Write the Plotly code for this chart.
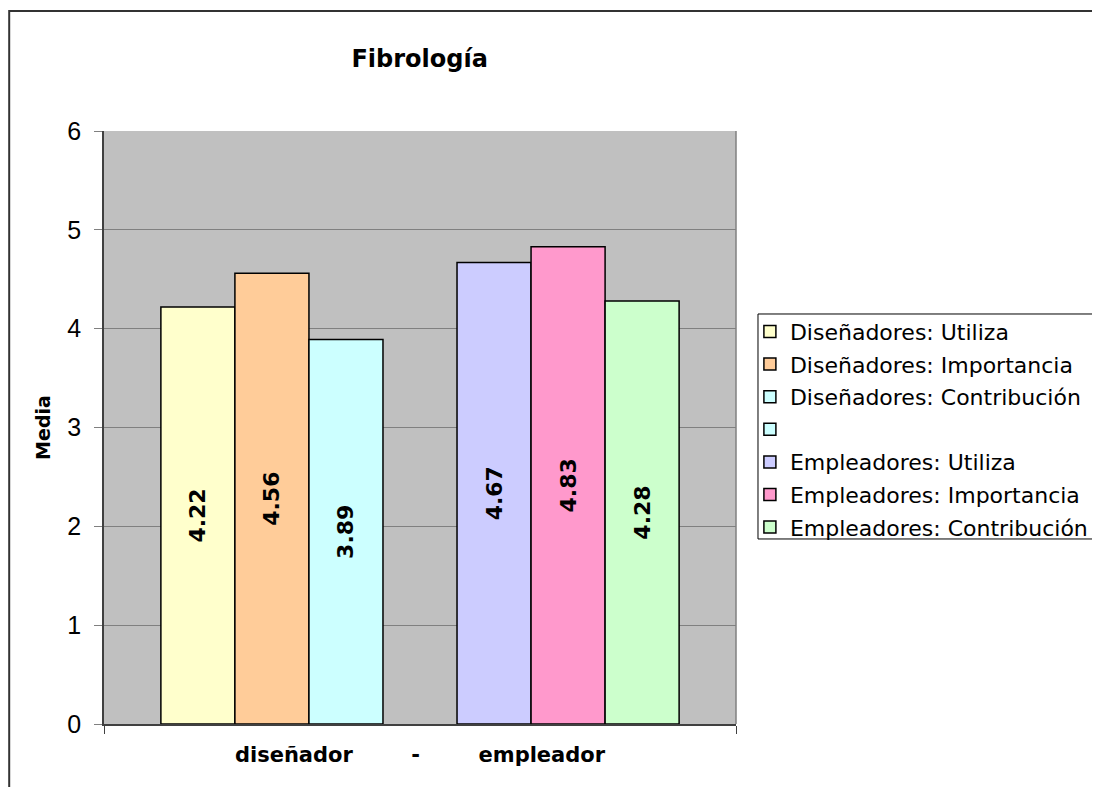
import plotly.graph_objects as go

categories = ["diseñador\u00a0\u00a0\u00a0\u00a0\u00a0\u00a0\u00a0\u00a0-\u00a0\u00a0\u00a0\u00a0\u00a0\u00a0\u00a0\u00a0empleador"]
series_names = [
    "Diseñadores: Utiliza",
    "Diseñadores: Importancia",
    "Diseñadores: Contribución",
    " ",
    "Empleadores: Utiliza",
    "Empleadores: Importancia",
    "Empleadores: Contribución",
]
series_values = [4.22, 4.56, 3.89, None, 4.67, 4.83, 4.28]
series_colors = ["#FFFFCC", "#FFCC99", "#CCFFFF", "#CCFFFF", "#CCCCFF", "#FF99CC", "#CCFFCC"]
y_ticks = [0, 1, 2, 3, 4, 5, 6]

fig = go.Figure()
for i, (name, val, col) in enumerate(zip(series_names, series_values, series_colors)):
    fig.add_trace(go.Bar(
        x=categories, y=[val], name=name, legendgroup=f"g{i}",
        marker=dict(color=col, line=dict(color="#000000", width=1.5)),
        texttemplate="%{y:.2f}", textposition="inside", textangle=-90,
        insidetextanchor="middle",
        textfont=dict(family="DejaVu Sans", size=22, color="#000000", weight="bold"),
    ))

fig.update_layout(
    width=1092, height=779,
    margin=dict(l=96, r=364, t=123, b=63, autoexpand=False),
    paper_bgcolor="#FFFFFF", plot_bgcolor="#C0C0C0",
    barmode="group", bargap=0.18, bargroupgap=0,
    showlegend=True,
    title=dict(text="<b>Fibrología</b>", x=0.377, xanchor="center", y=0.935, yanchor="middle",
               font=dict(family="DejaVu Sans", size=24, color="#000000")),
    legend=dict(x=1.022, xanchor="left", y=0.697, yanchor="top",
                borderwidth=0, bgcolor="rgba(255,255,255,0)",
                font=dict(family="DejaVu Sans", size=22, color="#000000"),
                traceorder="grouped", tracegroupgap=1),
    xaxis=dict(showgrid=False, showline=True, linecolor="#404040", linewidth=1.5,
               ticks="outside", tickson="boundaries", ticklen=8, tickcolor="#404040",
               ticklabelstandoff=11,
               tickfont=dict(family="DejaVu Sans", size=21, color="#000000", weight="bold")),
    yaxis=dict(range=[0, 6], tickvals=y_ticks, showgrid=True, gridcolor="#808080", gridwidth=1,
               showline=True, linecolor="#404040", linewidth=1.5, zeroline=False,
               ticks="outside", ticklen=8, tickcolor="#808080",
               ticklabelstandoff=8,
               tickfont=dict(family="Liberation Sans", size=25, color="#000000"),
               title=dict(text="<b>Media</b>", standoff=12,
                          font=dict(family="DejaVu Sans", size=19, color="#000000"))),
)

# outer chart border
fig.add_shape(type="rect", xref="paper", yref="paper", x0=-0.150, y0=-0.2, x1=1.7, y1=1.2024,
              line=dict(color="#333333", width=2), fillcolor="rgba(0,0,0,0)", layer="below")
# legend box
fig.add_shape(type="rect", xref="paper", yref="paper", x0=1.0348, y0=0.312, x1=1.8, y1=0.6914,
              line=dict(color="#000000", width=1), fillcolor="rgba(0,0,0,0)", layer="below")
# right edge of plot area
fig.add_shape(type="line", xref="paper", yref="paper", x0=1, y0=0, x1=1, y1=1,
              line=dict(color="#808080", width=1.5))

fig.write_html("out.html")
